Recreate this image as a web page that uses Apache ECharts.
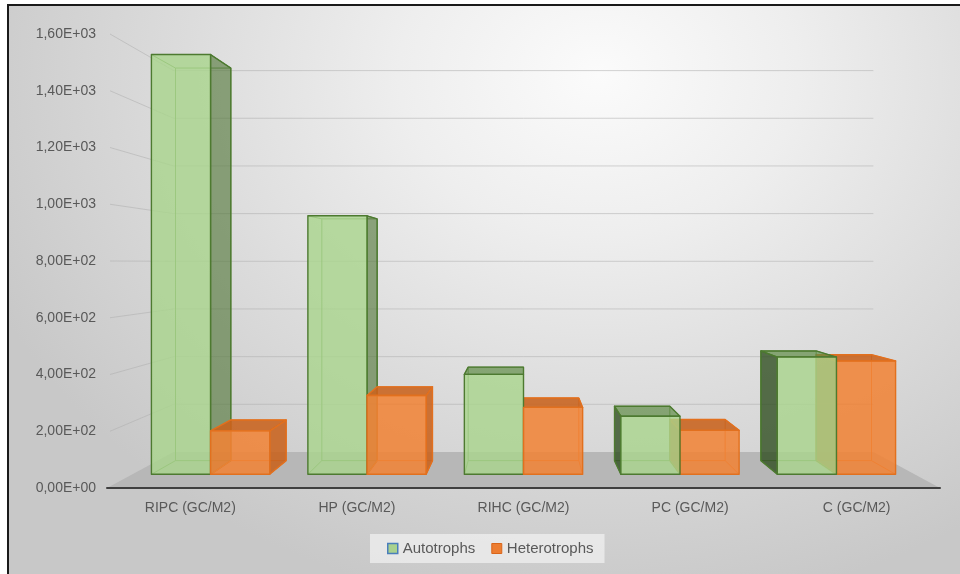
<!DOCTYPE html>
<html><head><meta charset="utf-8">
<script src="https://cdn.jsdelivr.net/npm/echarts/dist/echarts.min.js"></script>
<style>
html,body{margin:0;padding:0;background:#fff;}
#frame{position:absolute;left:7px;top:4px;width:953px;height:570px;border-left:2px solid #1a1a1a;border-top:2px solid #1a1a1a;box-sizing:border-box;
background:radial-gradient(ellipse 70% 95% at 62% 12%, #fbfbfb 0%, #eeeeee 30%, #dcdcdc 62%, #c8c8c8 100%);}
#chart{position:absolute;left:0;top:0;width:960px;height:574px;}
</style></head><body>
<div id="frame"></div><div id="chart"></div>
<script>
var categories = ['RIPC (GC/M2)', 'HP (GC/M2)', 'RIHC (GC/M2)', 'PC (GC/M2)', 'C (GC/M2)'];
var autotrophs = [1575, 970, 375, 218, 440];
var heterotrophs = [163, 296, 251, 165, 425];
var yTicks = [0, 200, 400, 600, 800, 1000, 1200, 1400, 1600];
var yTickLabels = ['0,00E+00', '2,00E+02', '4,00E+02', '6,00E+02', '8,00E+02', '1,00E+03', '1,20E+03', '1,40E+03', '1,60E+03'];

var FONT = '"Liberation Sans", Arial, sans-serif';
var DEPTH = 0.16, Z0 = 0.38, Z1 = 0.76, BAR_FRAC = 0.378, HORIZON_FRAC = 0.504;

function projector(cs) {
  var vx = cs.x + cs.width / 2, vy = cs.y + cs.height * HORIZON_FRAC;
  return function (x, y, z) { var f = 1 - DEPTH * z; return [vx + (x - vx) * f, vy + (y - vy) * f]; };
}

var greenStyle = {
  front: 'rgba(169,212,140,0.80)', top: 'rgba(95,140,70,0.70)', right: 'rgba(80,118,55,0.62)', left: 'rgba(45,75,30,0.78)',
  stroke: '#4d7a30', edge: 'rgba(90,140,60,0.9)'
};
var orangeStyle = {
  front: 'rgba(241,130,52,0.86)', top: 'rgba(200,98,28,0.88)', right: 'rgba(200,98,28,0.88)', left: 'rgba(190,92,25,0.88)',
  stroke: '#e2701e', edge: 'rgba(226,112,30,0.9)'
};

function face(pts, fill, stroke, z2) {
  return { type: 'polygon', shape: { points: pts }, style: { fill: fill, stroke: stroke, lineWidth: 1.4, lineJoin: 'round' }, z2: z2 };
}

function makeBox(side, sty) {
  return function (params, api) {
    var cs = params.coordSys;
    var P = projector(cs);
    var vx = cs.x + cs.width / 2;
    var ci = api.value(0), v = api.value(1);
    var base = api.coord([ci, 0]), topP = api.coord([ci, v]);
    var band = api.size([1, 0])[0], bw = band * BAR_FRAC;
    var xl = side === 0 ? base[0] - bw : base[0], xr = xl + bw;
    var yb = base[1], yt = topP[1];
    var FLB = P(xl, yb, Z0), FRB = P(xr, yb, Z0), FRT = P(xr, yt, Z0), FLT = P(xl, yt, Z0);
    var BLB = P(xl, yb, Z1), BRB = P(xr, yb, Z1), BRT = P(xr, yt, Z1), BLT = P(xl, yt, Z1);
    var z2 = Math.round(2000 - Math.abs((xl + xr) / 2 - vx)) * 10;
    var ch = [];
    ch.push({ type: 'polyline', shape: { points: [BLB, BRB, BRT, BLT, BLB] }, style: { fill: null, stroke: sty.edge, lineWidth: 1 }, z2: z2 });
    [[FLB, BLB], [FRB, BRB], [FRT, BRT], [FLT, BLT]].forEach(function (e) {
      ch.push({ type: 'line', shape: { x1: e[0][0], y1: e[0][1], x2: e[1][0], y2: e[1][1] }, style: { stroke: sty.edge, lineWidth: 1 }, z2: z2 });
    });
    if (BRB[0] > FRB[0] + 0.5) ch.push(face([FRB, BRB, BRT, FRT], sty.right, sty.stroke, z2 + 1));
    if (BLB[0] < FLB[0] - 0.5) ch.push(face([FLB, BLB, BLT, FLT], sty.left, sty.stroke, z2 + 1));
    if (BLT[1] < FLT[1]) ch.push(face([FLT, FRT, BRT, BLT], sty.top, sty.stroke, z2 + 2));
    ch.push(face([FLB, FRB, FRT, FLT], sty.front, sty.stroke, z2 + 3));
    return { type: 'group', children: ch };
  };
}

function renderWall(params, api) {
  var cs = params.coordSys;
  var P = projector(cs);
  var t = api.value(1);
  var y = api.coord([0, t])[1];
  var xl = cs.x, xr = cs.x + cs.width;
  var bl = P(xl, y, 1), br = P(xr, y, 1);
  if (t === 0) {
    return { type: 'polygon', shape: { points: [[xl, y], [xr, y], br, bl] }, style: { fill: '#b7b7b7', stroke: null } };
  }
  return { type: 'polyline', shape: { points: [[xl + 3, y], bl, br] }, style: { fill: null, stroke: 'rgba(175,175,175,0.55)', lineWidth: 1 } };
}

var chart = echarts.init(document.getElementById('chart'), null, { renderer: 'canvas' });
chart.setOption({
  animation: false,
  backgroundColor: 'transparent',
  grid: { left: 107, right: 20, top: 34, bottom: 86, containLabel: false },
  xAxis: {
    type: 'category', data: categories, z: 5,
    axisLine: { show: true, lineStyle: { color: '#3f3f3f', width: 2 } },
    axisTick: { show: false },
    axisLabel: { color: '#595959', fontSize: 14, fontFamily: FONT, margin: 13 }
  },
  yAxis: {
    type: 'value', min: 0, max: 1600, interval: 200,
    axisLine: { show: false }, axisTick: { show: false }, splitLine: { show: false },
    axisLabel: {
      color: '#595959', fontSize: 14, fontFamily: FONT, margin: 11,
      formatter: function (val) { var i = yTicks.indexOf(val); return i >= 0 ? yTickLabels[i] : ''; }
    }
  },
  legend: {
    left: 370, top: 534, itemWidth: 10, itemHeight: 10, itemGap: 16,
    padding: [7, 11, 7, 17], backgroundColor: 'rgba(242,242,242,0.7)',
    textStyle: { color: '#595959', fontSize: 15, fontFamily: FONT },
    data: [
      { name: 'Autotrophs', icon: 'rect', itemStyle: { color: '#a9d18e', borderColor: '#4a7ebb', borderWidth: 1.5 } },
      { name: 'Heterotrophs', icon: 'rect', itemStyle: { color: '#ed7d31', borderColor: '#d9651a', borderWidth: 1 } }
    ]
  },
  series: [
    {
      name: 'wall', type: 'custom', z: 1, silent: true, renderItem: renderWall,
      data: yTicks.map(function (t) { return [0, t]; }), encode: { x: 0, y: 1 }
    },
    {
      name: 'Autotrophs', type: 'custom', z: 2, renderItem: makeBox(0, greenStyle),
      itemStyle: { color: '#a9d18e' },
      data: autotrophs.map(function (v, i) { return [i, v]; }), encode: { x: 0, y: 1 }
    },
    {
      name: 'Heterotrophs', type: 'custom', z: 2, renderItem: makeBox(1, orangeStyle),
      itemStyle: { color: '#ed7d31' },
      data: heterotrophs.map(function (v, i) { return [i, v]; }), encode: { x: 0, y: 1 }
    }
  ]
});
</script>
</body></html>
